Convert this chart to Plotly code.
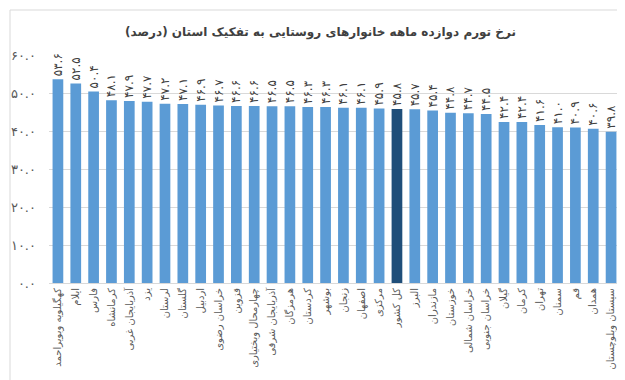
import plotly.graph_objects as go

provinces = [
    "کهگیلویه وبویراحمد", "ایلام", "فارس", "کرمانشاه", "آذربایجان غربی", "یزد",
    "لرستان", "گلستان", "اردبیل", "خراسان رضوی", "قزوین", "چهارمحال وبختیاری",
    "آذربایجان شرقی", "هرمزگان", "کردستان", "بوشهر", "زنجان", "اصفهان", "مرکزی",
    "کل کشور", "البرز", "مازندران", "خوزستان", "خراسان شمالی", "خراسان جنوبی",
    "گیلان", "کرمان", "تهران", "سمنان", "قم", "همدان", "سیستان وبلوچستان",
]
inflation = [
    53.6, 52.5, 50.4, 48.1, 47.9, 47.7, 47.2, 47.1, 46.9, 46.7, 46.6, 46.6,
    46.5, 46.5, 46.3, 46.3, 46.1, 46.1, 45.9, 45.8, 45.7, 45.4, 44.8, 44.7,
    44.5, 42.4, 42.4, 41.6, 41.0, 40.9, 40.6, 39.8,
]
highlight = "کل کشور"
y_ticks = [0, 10, 20, 30, 40, 50, 60]

title_text = "نرخ تورم دوازده ماهه خانوارهای روستایی به تفکیک استان (درصد)"

FA = str.maketrans("0123456789", "۰۱۲۳۴۵۶۷۸۹")


def fa(v):
    return f"{v:.1f}".translate(FA)


colors = ["#1F4E79" if p == highlight else "#5B9BD5" for p in provinces]
labels = [fa(v) for v in inflation]

FONT = "DejaVu Sans"

fig = go.Figure(
    go.Bar(
        x=provinces,
        y=inflation,
        marker=dict(color=colors, line=dict(width=0)),
        text=labels,
        textposition="outside",
        textangle=-90,
        cliponaxis=False,
        textfont=dict(family=FONT, size=12, color="#404040"),
        hoverinfo="x+y",
    )
)

fig.update_layout(
    width=625,
    height=380,
    margin=dict(l=41, r=13, t=47, b=105, autoexpand=False),
    paper_bgcolor="white",
    plot_bgcolor="white",
    bargap=0.4,
    showlegend=False,
    uniformtext=dict(minsize=8, mode="show"),
    title=dict(
        text="<b>" + title_text + "</b>",
        x=0.5,
        xanchor="center",
        y=1 - 24 / 380,
        yanchor="middle",
        font=dict(family=FONT, size=12, color="#404040"),
    ),
    font=dict(family=FONT, color="#595959"),
    shapes=[
        dict(
            type="rect", xref="paper", yref="paper",
            x0=(2 - 41) / 571, x1=(630 - 41) / 571,
            y0=(275 - 377) / 228, y1=(275 - 2) / 228,
            line=dict(color="#D9D9D9", width=1),
            fillcolor="rgba(0,0,0,0)",
            layer="below",
        )
    ],
)

fig.update_xaxes(
    tickangle=-90,
    tickfont=dict(family=FONT, size=10, color="#595959"),
    showline=True,
    linecolor="#D9D9D9",
    linewidth=1,
    ticks="",
    showgrid=False,
    automargin=False,
)
fig.update_yaxes(
    range=[0, 60],
    tickvals=y_ticks,
    ticktext=[fa(v) for v in y_ticks],
    tickfont=dict(family=FONT, size=13, color="#595959"),
    showgrid=True,
    gridcolor="#D9D9D9",
    gridwidth=1,
    zeroline=False,
    showline=False,
    ticks="",
    ticklabelstandoff=12,
    automargin=False,
)

fig.write_html("out.html")
